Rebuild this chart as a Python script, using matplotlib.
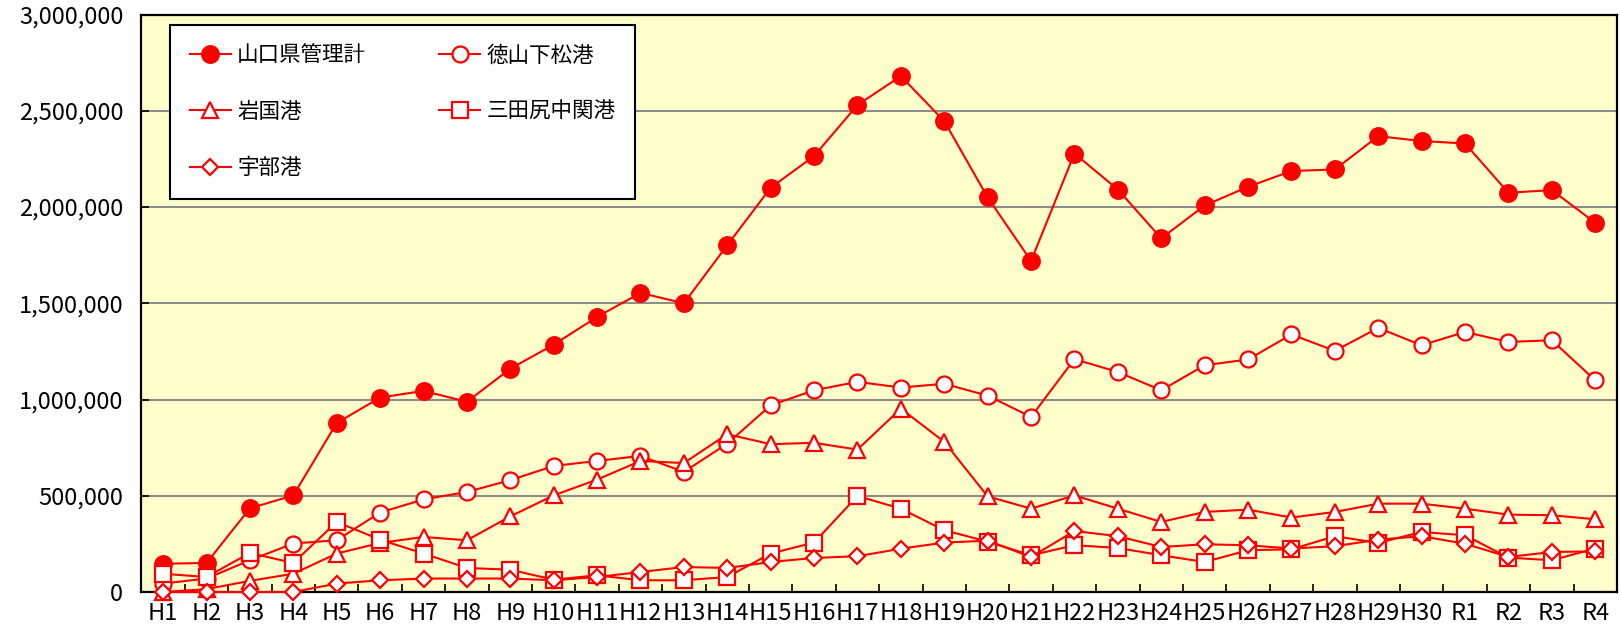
import numpy as np
import matplotlib
matplotlib.use('Agg')
import matplotlib.pyplot as plt
from matplotlib.ticker import FuncFormatter

plt.rcParams['font.family'] = ['Noto Sans CJK JP', 'DejaVu Sans']

years = ['H%d' % i for i in range(1, 31)] + ['R1', 'R2', 'R3', 'R4']

# values
yamaguchi = [147000, 151000, 435000, 502000, 878000, 1010000, 1045000, 988000,
             1160000, 1285000, 1429000, 1554000, 1500000, 1802000, 2100000,
             2265000, 2530000, 2680000, 2446000, 2050000, 1720000, 2278000,
             2091000, 1837000, 2008000, 2105000, 2187000, 2195000, 2368000,
             2343000, 2330000, 2074000, 2088000, 1918000]
tokuyama = [44000, 70000, 165000, 252000, 269000, 413000, 481000, 520000,
            581000, 655000, 681000, 707000, 624000, 771000, 970000, 1048000,
            1092000, 1062000, 1082000, 1020000, 910000, 1210000, 1143000,
            1048000, 1178000, 1208000, 1338000, 1253000, 1372000, 1282000,
            1351000, 1299000, 1308000, 1100000]
iwakuni = [0, 15000, 58000, 95000, 200000, 255000, 286000, 269000, 393000,
           502000, 584000, 681000, 670000, 820000, 768000, 775000, 740000,
           953000, 780000, 497000, 433000, 502000, 433000, 364000, 416000,
           428000, 387000, 416000, 459000, 459000, 433000, 402000, 399000,
           378000]
mitajiri = [95000, 78000, 203000, 151000, 364000, 272000, 200000, 125000,
            116000, 64000, 87000, 61000, 61000, 78000, 200000, 257000, 499000,
            433000, 321000, 262000, 191000, 243000, 229000, 191000, 156000,
            217000, 222000, 290000, 255000, 312000, 295000, 179000, 165000,
            226000]
ube = [0, 0, 0, 0, 44000, 61000, 70000, 70000, 70000, 61000, 78000, 104000,
       130000, 125000, 156000, 177000, 186000, 225000, 257000, 267000, 182000,
       317000, 290000, 234000, 248000, 243000, 226000, 238000, 272000, 290000,
       251000, 182000, 208000, 211000]

fig = plt.figure(figsize=(16.2, 6.34), dpi=100)
ax = fig.add_axes([0.0873, 0.0662, 0.9108, 0.9109])
ax.set_facecolor('#FFFFCC')

x = np.arange(len(years))
red = '#FF0000'
series = [
    ('山口県管理計', yamaguchi, 'o', red, 12),
    ('徳山下松港', tokuyama, 'o', 'white', 11.5),
    ('岩国港', iwakuni, '^', 'white', 12),
    ('三田尻中関港', mitajiri, 's', 'white', 11.5),
    ('宇部港', ube, 'D', 'white', 8),
]
handles = []
for name, vals, mk, fc, ms in series:
    h, = ax.plot(x, vals, color=red, lw=1.5, marker=mk, markersize=ms,
                 markerfacecolor=fc, markeredgecolor=red, markeredgewidth=1.6,
                 label=name, clip_on=False, zorder=3)
    handles.append(h)

ax.set_xlim(-0.5, len(years) - 0.5)
ax.set_ylim(0, 3000000)
ax.set_yticks(np.arange(0, 3000001, 500000))
ax.yaxis.set_major_formatter(FuncFormatter(lambda v, p: '{:,.0f}'.format(v)))
ax.yaxis.grid(True, color='#8c8c8c', lw=1.5, zorder=1)
ax.set_axisbelow(True)

ax.set_xticks(x)
ax.set_xticklabels(years)
ax.set_xticks(np.arange(-0.5, len(years)), minor=True)
ax.tick_params(axis='x', which='major', length=0, pad=7, labelsize=17)
ax.tick_params(axis='x', which='minor', direction='in', length=6, width=1.2)
ax.tick_params(axis='y', direction='in', length=6, width=1.2, pad=13,
               labelsize=17)
for s in ax.spines.values():
    s.set_color('black')
    s.set_linewidth(1.6)

order = [0, 2, 4, 1, 3]
leg = ax.legend([handles[i] for i in order], [series[i][0] for i in order],
                ncol=2, loc='upper left', bbox_to_anchor=(0.0197, 0.9818),
                borderaxespad=0, fontsize=15.5, frameon=True, fancybox=False,
                edgecolor='black', facecolor='white', framealpha=1,
                borderpad=0.9, labelspacing=1.6, columnspacing=3.4,
                handlelength=1.9, handletextpad=0.3)
leg.get_frame().set_linewidth(1.5)
leg.set_zorder(5)

fig.savefig('out.png', dpi=100)
